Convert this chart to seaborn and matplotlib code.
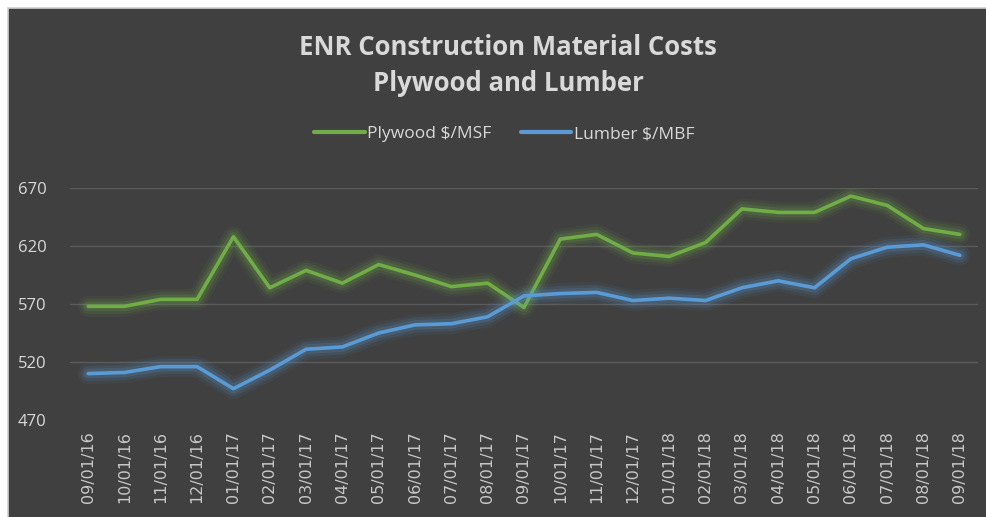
import pandas as pd
import matplotlib.pyplot as plt
import matplotlib.patheffects as pe
from matplotlib.patches import Rectangle
import seaborn as sns

months = [
    "09/01/16", "10/01/16", "11/01/16", "12/01/16", "01/01/17", "02/01/17",
    "03/01/17", "04/01/17", "05/01/17", "06/01/17", "07/01/17", "08/01/17",
    "09/01/17", "10/01/17", "11/01/17", "12/01/17", "01/01/18", "02/01/18",
    "03/01/18", "04/01/18", "05/01/18", "06/01/18", "07/01/18", "08/01/18",
    "09/01/18",
]
plywood = [568, 568, 574, 574, 628, 584, 599, 588, 604, 595, 585, 588,
           567, 626, 630, 614, 611, 623, 652, 649, 649, 663, 655, 635, 630]
lumber = [510, 511, 516, 516, 497, 513, 531, 533, 545, 552, 553, 559,
          577, 579, 580, 573, 575, 573, 584, 590, 584, 609, 619, 621, 612]
series_names = ["Plywood $/MSF", "Lumber $/MBF"]
colors = ["#70ad47", "#5b9bd5"]

df = pd.DataFrame({
    "month": months * 2,
    "value": plywood + lumber,
    "series": [series_names[0]] * len(months) + [series_names[1]] * len(months),
})

sns.set_theme(style="dark")
plt.rcParams["font.family"] = ["Open Sans", "DejaVu Sans"]

BG = "#404040"
fig = plt.figure(figsize=(9.87, 5.17), dpi=100, facecolor="white")
fig.patches.append(Rectangle((8 / 987, -0.01), 1, 1.01 - 8 / 517, transform=fig.transFigure,
                             facecolor=BG, edgecolor="#d0d0d0", linewidth=1.2, zorder=-5))

ax = fig.add_axes([70 / 987, 97 / 517, 908 / 987, 232 / 517])
ax.set_facecolor(BG)

sns.lineplot(data=df, x="month", y="value", hue="series", palette=colors,
             sort=False, linewidth=2.6, ax=ax, legend=False)

for line, c in zip(ax.get_lines(), colors):
    line.set_solid_capstyle("round")
    line.set_path_effects([
        pe.Stroke(linewidth=15, foreground=c, alpha=0.07),
        pe.Stroke(linewidth=11, foreground=c, alpha=0.11),
        pe.Stroke(linewidth=7, foreground=c, alpha=0.18),
        pe.Normal(),
    ])

ax.set_xlim(-0.5, len(months) - 0.5)
ax.set_ylim(470, 670)
ax.set_yticks([470, 520, 570, 620, 670])
ax.yaxis.grid(True, color="#5a5a5a", linewidth=1)
ax.get_ygridlines()[0].set_visible(False)
ax.xaxis.grid(False)
for s in ax.spines.values():
    s.set_visible(False)
ax.tick_params(axis="y", colors="#d9d9d9", labelsize=12, length=0, pad=17)
ax.tick_params(axis="x", colors="#c8c8c8", labelsize=11.5, length=0, pad=8,
               labelrotation=90, labelfontfamily="DejaVu Sans")
ax.set_xlabel("")
ax.set_ylabel("")

fig.text(0.515, 0.908, "ENR Construction Material Costs", ha="center", va="center",
         fontsize=18.5, fontweight="bold", color="#d9d9d9")
fig.text(0.515, 0.838, "Plywood and Lumber", ha="center", va="center",
         fontsize=18.5, fontweight="bold", color="#d9d9d9")

handles = [plt.Line2D([], [], color=c, linewidth=3) for c in colors]
fig.legend(handles, series_names, loc="center", bbox_to_anchor=(0.511, 0.74),
           ncol=2, frameon=False, fontsize=12.5, labelcolor="#d9d9d9",
           handlelength=2.9, handletextpad=0.15, columnspacing=1.7)

fig.savefig("out.png", dpi=100, facecolor="white")
plt.close(fig)
